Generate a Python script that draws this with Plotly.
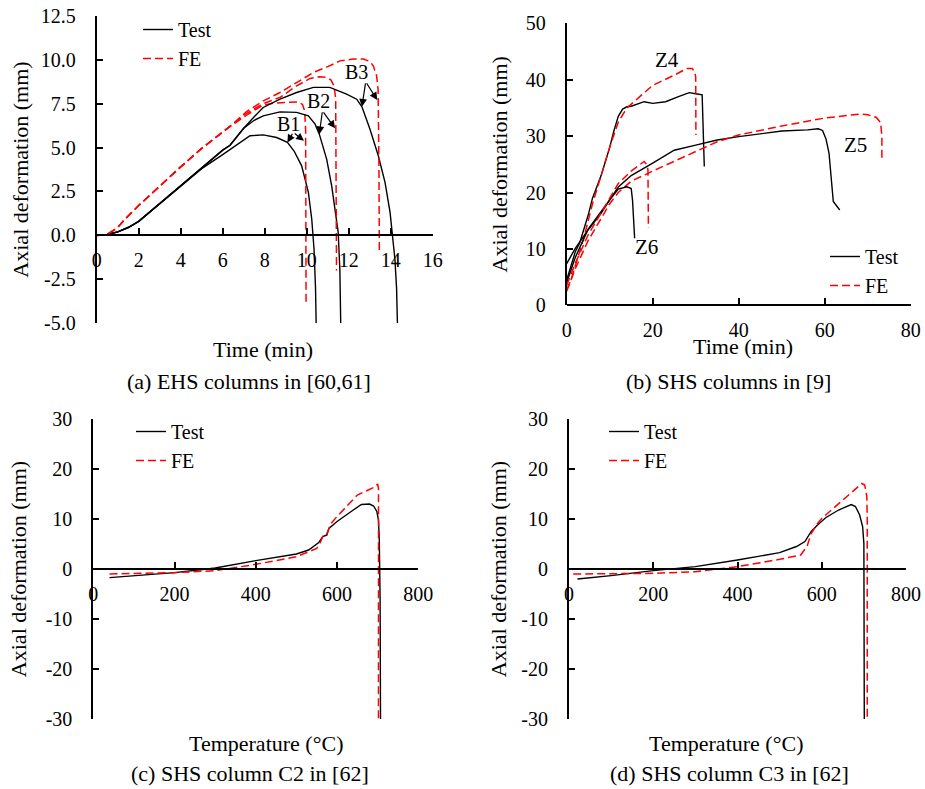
import plotly.graph_objects as go

W, H = 925, 789
FONT = "'Liberation Serif', 'Times New Roman', Times, 'DejaVu Serif', serif"

# ---------------- Panel (a): EHS columns, time vs deformation ----------------
a_B1_test_t = [0, 0.5, 1, 1.5, 2, 3, 4, 5, 6, 6.35, 7.3, 7.93, 8.57, 9.08, 9.4, 9.76, 10.08, 10.24, 10.35, 10.42, 10.45]
a_B1_test_y = [0, 0.05, 0.2, 0.45, 0.8, 1.8, 2.8, 3.8, 4.6, 4.88, 5.67, 5.72, 5.57, 5.29, 4.8, 3.96, 2.45, 0.93, -0.8, -3.0, -5.0]
a_B2_test_t = [0, 0.5, 1, 1.5, 2, 3, 4, 5, 6, 6.35, 7, 7.5, 7.93, 8.73, 9.52, 10.08, 10.4, 10.6, 10.95, 11.19, 11.35, 11.5, 11.58, 11.62]
a_B2_test_y = [0, 0.05, 0.2, 0.45, 0.8, 1.8, 2.8, 3.85, 4.85, 5.13, 6.1, 6.55, 6.8, 7.03, 7.0, 6.8, 6.33, 5.76, 4.34, 2.82, 1.31, 0.17, -2.0, -5.0]
a_B3_test_t = [0, 0.5, 1, 1.5, 2, 3, 4, 5, 6, 6.35, 7, 7.5, 7.93, 8.73, 9.52, 10.32, 11.1, 11.9, 12.38, 12.63, 13.01, 13.41, 13.73, 13.97, 14.2, 14.28, 14.32]
a_B3_test_y = [0, 0.05, 0.2, 0.45, 0.8, 1.8, 2.8, 3.85, 4.85, 5.13, 6.1, 6.75, 7.28, 7.75, 8.13, 8.42, 8.42, 8.04, 7.75, 7.32, 6.05, 4.53, 3.02, 1.31, -1.35, -3.0, -5.0]
a_B1_fe_t = [0, 0.5, 1, 1.35, 2, 3, 3.6, 4, 5, 6, 6.35, 7.14, 7.93, 8.41, 9.0, 9.6, 9.8, 9.9, 9.95, 9.96, 9.97]
a_B1_fe_y = [0, 0.05, 0.45, 0.93, 1.7, 2.8, 3.5, 3.9, 4.95, 5.9, 6.2, 6.85, 7.42, 7.52, 7.58, 7.6, 7.45, 7.1, 6.0, 0.0, -4.0]
a_B2_fe_t = [0, 0.5, 1, 1.35, 2, 3, 3.6, 4, 5, 6, 6.35, 7.14, 7.93, 8.73, 9.52, 10.16, 10.6, 10.95, 11.15, 11.3, 11.38, 11.4, 11.42]
a_B2_fe_y = [0, 0.05, 0.45, 0.93, 1.7, 2.8, 3.5, 3.9, 4.95, 5.9, 6.2, 6.95, 7.5, 7.85, 8.51, 8.93, 9.03, 8.99, 8.85, 8.5, 7.8, 3.0, -2.0]
a_B3_fe_t = [0, 0.5, 1, 1.35, 2, 3, 3.6, 4, 5, 6, 6.35, 7.14, 7.93, 8.73, 9.52, 10.32, 11.0, 11.59, 12.2, 12.7, 13.0, 13.17, 13.33, 13.4, 13.44, 13.46]
a_B3_fe_y = [0, 0.05, 0.45, 0.93, 1.7, 2.8, 3.5, 3.9, 4.95, 5.9, 6.2, 7.05, 7.65, 8.13, 8.7, 9.27, 9.6, 9.93, 10.03, 10.03, 9.9, 9.65, 9.08, 8.3, 4.0, -1.0]
a_ytick_vals = [-5.0, -2.5, 0.0, 2.5, 5.0, 7.5, 10.0, 12.5]
a_ytick_text = ["-5.0", "-2.5", "0.0", "2.5", "5.0", "7.5", "10.0", "12.5"]
a_xtick_vals = [0, 2, 4, 6, 8, 10, 12, 14, 16]
a_labels = ["B1", "B2", "B3"]
a_label_x = [9.12, 10.55, 12.35]
a_label_y = [6.33, 7.66, 9.27]
a_arrow_tail_x = [9.36, 10.75, 12.81]
a_arrow_tail_y = [5.86, 7.09, 8.74]
a_arrow_test_x = [9.08, 10.6, 12.63]
a_arrow_test_y = [5.29, 5.76, 7.32]
a_arrow_fe_x = [9.87, 11.35, 13.36]
a_arrow_fe_y = [5.38, 6.09, 7.70]

# ---------------- Panel (b): SHS columns, time vs deformation ----------------
b_Z4_test_t = [0, 1, 2, 3, 4, 5, 6, 7, 8, 9, 10, 11, 12, 13, 14, 15, 18, 20, 23, 26, 28.5, 30, 31, 31.5, 32]
b_Z4_test_y = [4.5, 7.0, 9.5, 11.0, 13.5, 16.0, 19.0, 21.0, 23.0, 25.5, 28.0, 31.0, 33.5, 34.8, 35.2, 35.3, 36.1, 35.8, 36.1, 37.0, 37.7, 37.5, 37.4, 37.3, 24.6]
b_Z4_fe_t = [0, 1, 2, 4, 6, 8, 10, 12, 14, 17, 20, 25, 28, 29.2, 29.8, 30.0, 30.05]
b_Z4_fe_y = [2.8, 4.5, 7.0, 12.0, 18.0, 23.0, 28.0, 32.5, 35.0, 37.0, 39.0, 40.8, 42.0, 42.0, 41.3, 40.5, 30.2]
b_Z5_test_t = [0, 2, 5, 8, 10, 12, 15, 20, 25, 30, 35, 40, 50, 56, 58.5, 59.5, 60.3, 61, 61.3, 61.6, 62, 63.5]
b_Z5_test_y = [4.0, 8.5, 13.5, 16.5, 18.7, 21.0, 23.0, 25.2, 27.5, 28.4, 29.3, 29.9, 30.9, 31.1, 31.3, 31.0, 29.5, 27.0, 24.6, 22.0, 18.4, 16.9]
b_Z5_fe_t = [0, 2, 5, 8, 10, 12, 15, 20, 25, 30, 35, 40, 50, 60, 68, 70, 72, 73, 73.3, 73.3]
b_Z5_fe_y = [2.5, 6.5, 11.5, 15.5, 18.0, 20.0, 22.0, 23.8, 25.5, 27.2, 29.0, 30.2, 31.8, 33.2, 33.9, 33.8, 33.3, 32.4, 30.0, 25.5]
b_Z6_test_t = [0, 2, 5, 8, 10, 12, 14, 15, 15.3, 15.8]
b_Z6_test_y = [7.4, 10.1, 13.4, 16.3, 18.7, 20.6, 21.0, 20.7, 18.7, 11.9]
b_Z6_fe_t = [0, 2, 5, 8, 10, 12, 15, 17, 18, 18.6, 18.9, 19.0]
b_Z6_fe_y = [3.5, 7.5, 12.5, 16.5, 19.2, 21.6, 23.8, 25.0, 25.5, 25.0, 24.0, 13.7]
b_ytick_vals = [0, 10, 20, 30, 40, 50]
b_ytick_text = ["0", "10", "20", "30", "40", "50"]
b_xtick_vals = [0, 20, 40, 60, 80]
b_labels = ["Z4", "Z5", "Z6"]
b_label_x = [23.3, 67.2, 18.5]
b_label_y = [43.5, 28.4, 10.4]

# ---------------- Panel (c): C2, temperature vs deformation ----------------
c_test_T = [40, 200, 280, 300, 400, 500, 530, 555, 565, 575, 580, 600, 640, 660, 680, 690, 698, 702, 704, 706, 707]
c_test_y = [-1.73, -0.73, 0.0, 0.2, 1.67, 3.0, 3.8, 5.3, 6.5, 6.8, 8.1, 9.5, 11.8, 12.9, 13.0, 12.6, 11.5, 9.8, 5.8, -6.2, -30.0]
c_fe_T = [40, 200, 300, 400, 500, 550, 560, 565, 575, 585, 600, 650, 690, 700, 702, 702]
c_fe_y = [-1.0, -0.73, -0.33, 0.93, 2.47, 4.1, 5.5, 6.6, 7.1, 9.1, 10.5, 14.8, 16.3, 17.0, 16.1, -30.0]

# ---------------- Panel (d): C3, temperature vs deformation ----------------
d_test_T = [20, 100, 200, 240, 300, 400, 500, 540, 560, 575, 590, 610, 640, 670, 680, 690, 697, 700, 701]
d_test_y = [-2.0, -1.33, -0.33, 0.0, 0.47, 1.8, 3.27, 4.5, 5.5, 7.5, 8.8, 10.3, 11.8, 12.9, 12.5, 10.8, 8.5, 5.1, -30.0]
d_fe_T = [10, 200, 300, 400, 500, 550, 565, 575, 590, 600, 650, 695, 702, 707, 708, 708]
d_fe_y = [-1.0, -0.87, -0.53, 0.47, 1.93, 2.8, 4.5, 7.1, 9.1, 10.1, 13.8, 17.1, 16.8, 14.5, 10.0, -30.0]

cd_ytick_vals = [-30, -20, -10, 0, 10, 20, 30]
cd_ytick_text = ["-30", "-20", "-10", "0", "10", "20", "30"]
cd_xtick_vals = [0, 200, 400, 600, 800]

captions = ["(a) EHS columns in [60,61]", "(b) SHS columns in [9]",
            "(c) SHS column C2 in [62]", "(d) SHS column C3 in [62]"]
xtitles = ["Time (min)", "Time (min)", "Temperature (°C)", "Temperature (°C)"]
ytitle = "Axial deformation (mm)"

# ---------------- layout geometry (pixels) ----------------
panels = {
    1: dict(x=(96.7, 432.7), y=(15.7, 323.3), xr=[0, 16], yr=[-5, 12.5]),
    2: dict(x=(566.7, 910.7), y=(23.3, 305.3), xr=[0, 80], yr=[0, 50]),
    3: dict(x=(93.3, 418.3), y=(419, 719), xr=[0, 800], yr=[-30, 30]),
    4: dict(x=(569, 906), y=(419, 719), xr=[0, 800], yr=[-30, 30]),
}

def px2fx(p):
    return p / W

def px2fy(p):
    return 1 - p / H

fig = go.Figure()
BLACK = "#000000"
RED = "#FF0000"
DASH = "8px,4px"

def add(xs, ys, n, kind, show):
    ax = "" if n == 1 else str(n)
    leg = "legend" if n == 1 else f"legend{n}"
    if kind == "test":
        line = dict(color=BLACK, width=1.4)
        name = "Test"
    else:
        line = dict(color=RED, width=1.5, dash=DASH)
        name = "FE"
    fig.add_trace(go.Scatter(x=xs, y=ys, mode="lines", line=line, name=name,
                             showlegend=show, legend=leg,
                             xaxis="x" + ax, yaxis="y" + ax, hoverinfo="skip"))

# panel a
add(a_B1_test_t, a_B1_test_y, 1, "test", True)
add(a_B1_fe_t, a_B1_fe_y, 1, "fe", True)
add(a_B2_test_t, a_B2_test_y, 1, "test", False)
add(a_B2_fe_t, a_B2_fe_y, 1, "fe", False)
add(a_B3_test_t, a_B3_test_y, 1, "test", False)
add(a_B3_fe_t, a_B3_fe_y, 1, "fe", False)
# panel b
add(b_Z4_test_t, b_Z4_test_y, 2, "test", True)
add(b_Z4_fe_t, b_Z4_fe_y, 2, "fe", True)
add(b_Z5_test_t, b_Z5_test_y, 2, "test", False)
add(b_Z5_fe_t, b_Z5_fe_y, 2, "fe", False)
add(b_Z6_test_t, b_Z6_test_y, 2, "test", False)
add(b_Z6_fe_t, b_Z6_fe_y, 2, "fe", False)
# panel c, d
add(c_test_T, c_test_y, 3, "test", True)
add(c_fe_T, c_fe_y, 3, "fe", True)
add(d_test_T, d_test_y, 4, "test", True)
add(d_fe_T, d_fe_y, 4, "fe", True)

tickfont = dict(family=FONT, size=20, color="black")
titlefont = dict(family=FONT, size=22, color="black")

ytick_sets = {1: (a_ytick_vals, a_ytick_text), 2: (b_ytick_vals, b_ytick_text),
              3: (cd_ytick_vals, cd_ytick_text), 4: (cd_ytick_vals, cd_ytick_text)}
xtick_sets = {1: a_xtick_vals, 2: b_xtick_vals, 3: cd_xtick_vals, 4: cd_xtick_vals}
ystandoff = {1: 6, 2: 12, 3: 13, 4: 9}

layout = {}
for n, p in panels.items():
    ax = "" if n == 1 else str(n)
    xdom = [px2fx(p["x"][0]), px2fx(p["x"][1])]
    ydom = [px2fy(p["y"][1]), px2fy(p["y"][0])]
    y0, y1 = p["yr"]
    frac = (0 - y0) / (y1 - y0)
    xpos = ydom[0] + frac * (ydom[1] - ydom[0])
    layout["xaxis" + ax] = dict(
        domain=xdom, range=p["xr"], anchor="free", position=xpos,
        showline=True, linecolor="black", linewidth=2, mirror=False,
        ticks="inside", ticklen=6, tickwidth=1.5, tickcolor="black",
        tickvals=xtick_sets[n], tickfont=tickfont, ticklabelstandoff=7,
        showgrid=False, zeroline=False, fixedrange=True, automargin=False,
    )
    yv, yt = ytick_sets[n]
    layout["yaxis" + ax] = dict(
        domain=ydom, range=p["yr"], anchor="x" + ax,
        showline=True, linecolor="black", linewidth=2,
        ticks="inside", ticklen=6, tickwidth=1.5, tickcolor="black",
        tickvals=yv, ticktext=yt, tickfont=tickfont, ticklabelstandoff=15,
        showgrid=False, zeroline=False, fixedrange=True, automargin=False,
        title=dict(text=ytitle, font=titlefont, standoff=ystandoff[n]),
    )

legfont = dict(family=FONT, size=20, color="black")
legend_pos = {1: (138, 10), 2: (825, 237), 3: (131, 412), 4: (604, 412)}
for n, (lx, ly) in legend_pos.items():
    key = "legend" if n == 1 else f"legend{n}"
    layout[key] = dict(x=px2fx(lx), y=px2fy(ly), xanchor="left", yanchor="top",
                       font=legfont, bgcolor="rgba(0,0,0,0)", borderwidth=0,
                       tracegroupgap=0)

annotations = []
# B labels and arrows
for lab, lx, ly, tx, ty, hx1, hy1, hx2, hy2 in zip(a_labels, a_label_x, a_label_y,
                                                  a_arrow_tail_x, a_arrow_tail_y,
                                                  a_arrow_test_x, a_arrow_test_y,
                                                  a_arrow_fe_x, a_arrow_fe_y):
    annotations.append(dict(x=lx, y=ly, xref="x", yref="y", text=lab, showarrow=False,
                            font=dict(family=FONT, size=20, color="black")))
    for hx, hy in ((hx1, hy1), (hx2, hy2)):
        annotations.append(dict(x=hx, y=hy, xref="x", yref="y", ax=tx, ay=ty,
                                axref="x", ayref="y", text="", showarrow=True,
                                arrowhead=2, arrowsize=1.3, arrowwidth=1.2,
                                arrowcolor="black", standoff=0, startstandoff=0))
for lab, lx, ly in zip(b_labels, b_label_x, b_label_y):
    annotations.append(dict(x=lx, y=ly, xref="x2", yref="y2", text=lab, showarrow=False,
                            font=dict(family=FONT, size=21, color="black")))

# x titles and captions
xtitle_pos = [(263, 349), (743, 347), (266, 743), (726, 743)]
caption_pos = [(249, 381), (728, 381), (250, 773), (729, 773)]
for t, (x, y) in zip(xtitles, xtitle_pos):
    annotations.append(dict(x=px2fx(x), y=px2fy(y), xref="paper", yref="paper",
                            text=t, showarrow=False, xanchor="center", yanchor="middle",
                            font=titlefont))
for t, (x, y) in zip(captions, caption_pos):
    annotations.append(dict(x=px2fx(x), y=px2fy(y), xref="paper", yref="paper",
                            text=t, showarrow=False, xanchor="center", yanchor="middle",
                            font=titlefont))

fig.update_layout(
    width=W, height=H, margin=dict(l=0, r=0, t=0, b=0),
    paper_bgcolor="white", plot_bgcolor="white",
    font=dict(family=FONT, color="black"),
    annotations=annotations, **layout,
)

fig.write_html("out.html", config={"displayModeBar": False},
               post_script="document.body.style.margin='0';document.body.style.padding='0';")
